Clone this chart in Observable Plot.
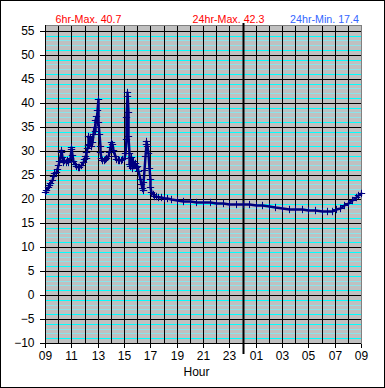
<!DOCTYPE html>
<html><head><meta charset="utf-8">
<script src="https://cdn.jsdelivr.net/npm/d3@7"></script>
<script src="https://cdn.jsdelivr.net/npm/@observablehq/plot@0.6"></script>
<style>
body{margin:0;background:#fff;}
#wrap{position:relative;width:385px;height:388px;}
#border{position:absolute;left:0;top:0;width:385px;height:388px;box-sizing:border-box;border:1px solid #000;pointer-events:none;}
</style></head><body>
<div id="wrap"><div id="border"></div></div>
<script>
// hours since 09:00
const hours = [0.00,0.10,0.20,0.30,0.40,0.50,0.60,0.70,0.80,0.90,1.00,1.10,1.18,1.24,1.30,1.38,1.48,1.58,1.68,1.78,1.88,1.95,2.00,2.07,2.15,2.25,2.38,2.50,2.62,2.74,2.85,2.95,3.02,3.08,3.14,3.20,3.26,3.30,3.36,3.42,3.48,3.55,3.62,3.70,3.76,3.82,3.88,3.93,3.98,4.02,4.06,4.10,4.15,4.20,4.28,4.36,4.46,4.56,4.66,4.76,4.86,4.95,5.05,5.12,5.20,5.30,5.40,5.52,5.64,5.76,5.88,5.98,6.06,6.12,6.16,6.20,6.23,6.27,6.31,6.35,6.39,6.45,6.51,6.57,6.63,6.70,6.78,6.86,6.94,7.02,7.10,7.18,7.26,7.34,7.42,7.48,7.54,7.60,7.66,7.70,7.76,7.82,7.88,7.94,8.00,8.08,8.18,8.30,8.45,8.60,8.80,9.00,9.30,9.60,10.0,10.5,11.0,11.5,12.0,12.5,13.0,13.5,14.0,14.5,15.0,15.5,16.0,16.5,17.0,17.5,18.0,18.5,19.0,19.5,20.0,20.5,21.0,21.4,21.8,22.1,22.4,22.7,23.0,23.3,23.6,23.8,24.0];
const temps = [21.5,21.9,22.4,22.9,23.4,23.9,24.8,25.4,25.6,26.3,27.0,27.9,29.8,30.2,28.8,27.6,28.1,27.6,28.0,27.7,28.6,30.4,30.9,29.2,27.9,27.2,26.8,26.6,26.7,27.1,27.6,28.3,29.0,28.6,29.8,30.5,31.2,33.0,31.5,32.8,31.0,31.8,33.5,35.0,34.2,36.5,37.2,36.0,38.5,40.7,36.0,33.5,31.0,29.8,28.5,28.0,28.1,28.4,28.6,29.0,29.8,30.8,31.8,31.5,30.2,29.0,28.4,28.0,28.1,28.0,28.3,28.6,29.5,32.5,37.0,41.5,42.3,38.0,33.0,29.5,27.2,26.8,28.8,27.5,26.5,27.8,27.0,27.4,26.6,26.9,25.8,24.2,23.0,22.3,21.8,23.5,26.0,29.0,31.5,32.0,31.0,29.5,26.5,24.2,22.5,21.5,21.0,20.7,20.5,20.3,20.3,20.2,20.1,19.9,19.7,19.6,19.5,19.4,19.3,19.3,19.2,19.1,19.0,18.9,18.9,18.9,18.8,18.7,18.5,18.3,18.1,17.9,17.9,17.8,17.7,17.6,17.5,17.4,17.5,17.8,18.2,18.7,19.2,19.8,20.4,20.8,21.3];
const yTicks = [-10,-5,0,5,10,15,20,25,30,35,40,45,50,55];
const minorBright = d3.range(-9, 56, 1).filter(v => ((v % 5) + 5) % 5 === 1 || ((v % 5) + 5) % 5 === 4);
const minorDim = d3.range(-9, 56, 1).filter(v => ((v % 5) + 5) % 5 === 2 || ((v % 5) + 5) % 5 === 3);
const hourLines = d3.range(1, 24);
const xTicks = d3.range(0, 25, 2);
const headerTexts = ["6hr-Max. 40.7", "24hr-Max. 42.3", "24hr-Min. 17.4"];
const headerColors = ["#ff0000", "#ff0000", "#3366ff"];
const midnight = [15];

const data = hours.map((h, i) => ({h, t: temps[i]}));

const chart = Plot.plot({
  width: 385, height: 388,
  marginLeft: 45, marginRight: 24, marginTop: 25, marginBottom: 45,
  style: {fontFamily: "'Liberation Sans', Arial, sans-serif", fontSize: "12px", background: "white", overflow: "visible", color: "black"},
  x: {domain: [0, 24], round: true, ticks: xTicks, tickFormat: d => String((9 + d) % 24).padStart(2, "0"), tickSize: 5, tickPadding: 3, label: null},
  y: {domain: [-10, 56.2], round: true, ticks: yTicks, tickSize: 5, tickPadding: 6, label: null},
  marks: [
    Plot.frame({fill: "#c0c0c0"}),
    Plot.ruleY(minorBright, {stroke: "#00ffff"}),
    Plot.ruleY(minorDim, {stroke: "#8ce4ea"}),
    Plot.ruleY(yTicks, {stroke: "black"}),
    Plot.ruleX(hourLines, {stroke: "black"}),
    Plot.frame({stroke: "#808080"}),
    Plot.ruleY([-10], {stroke: "black"}),
    Plot.ruleX([0], {stroke: "black"}),
    Plot.ruleX(midnight, {stroke: "black", strokeWidth: 2, insetTop: -2, insetBottom: -11}),
    Plot.line(data, {x: "h", y: "t", stroke: "#000080", strokeWidth: 2.5}),
    Plot.dot(data, {x: "h", y: "t", symbol: "plus", r: 2.5, stroke: "#000080", strokeWidth: 1}),
    Plot.text([headerTexts[0]], {frameAnchor: "top-left", dx: 43, dy: -10, textAnchor: "middle", fill: headerColors[0], fontSize: 10.7}),
    Plot.text([headerTexts[1]], {frameAnchor: "top-left", dx: 183, dy: -10, textAnchor: "middle", fill: headerColors[1], fontSize: 10.7}),
    Plot.text([headerTexts[2]], {frameAnchor: "top-left", dx: 279, dy: -10, textAnchor: "middle", fill: headerColors[2], fontSize: 10.7}),
    Plot.text(["Hour"], {frameAnchor: "bottom", dx: -7, dy: 32, textAnchor: "middle", fill: "black", fontSize: 12})
  ]
});
document.getElementById("wrap").prepend(chart);
</script>
</body></html>
